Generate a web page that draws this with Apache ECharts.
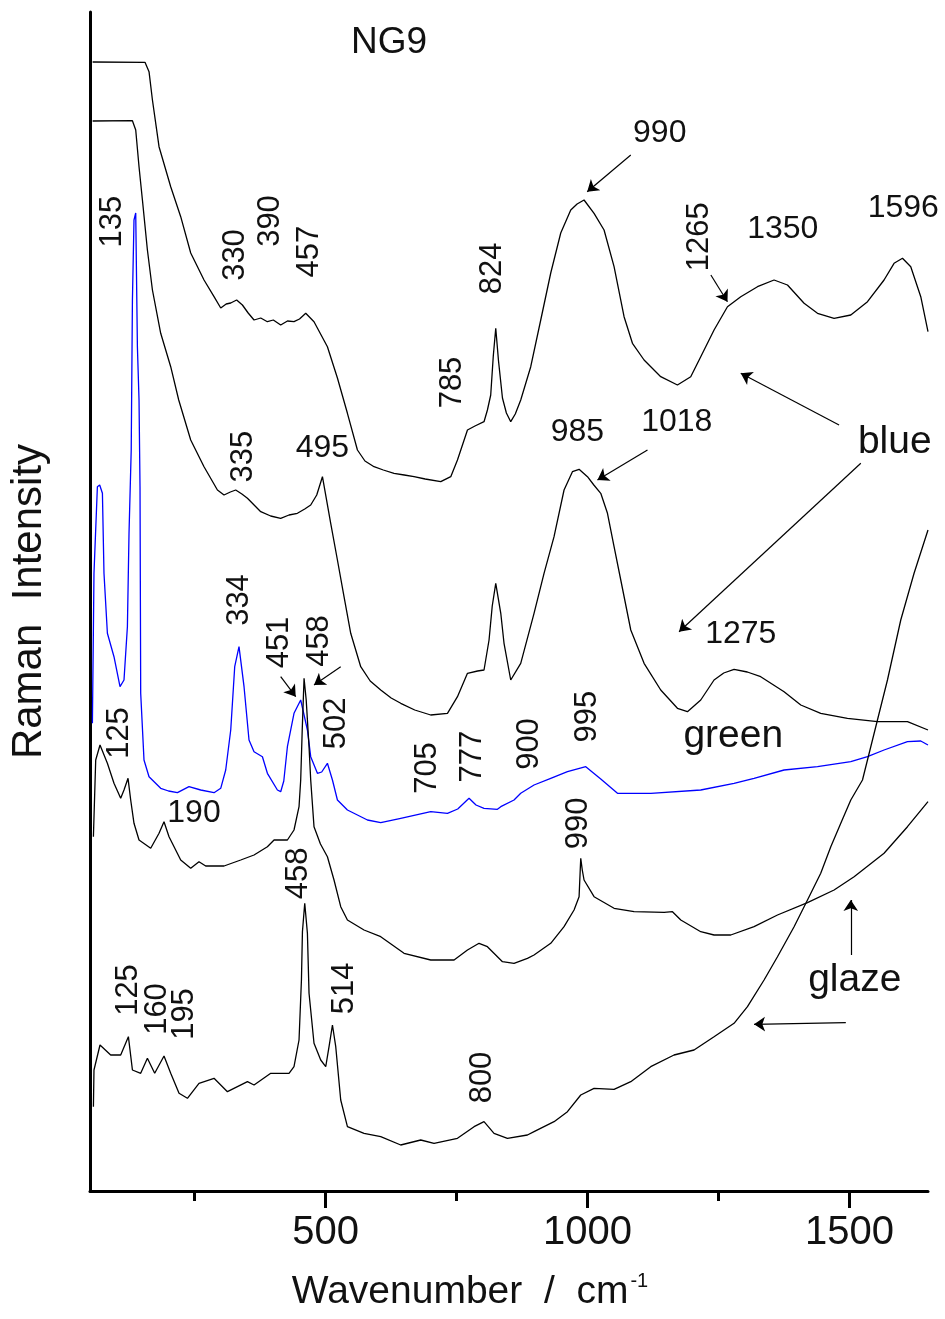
<!DOCTYPE html>
<html>
<head>
<meta charset="utf-8">
<script src="https://cdn.jsdelivr.net/npm/echarts@6/dist/echarts.min.js"></script>
<style>
html,body{margin:0;padding:0;background:#fff;}
#chart{width:945px;height:1319px;}
</style>
</head>
<body>
<div id="chart"></div>
<script>
// ---- axis range and tick values (wavenumber, cm-1) ----
const xMin = 50, xMax = 1650;
const yMin = 0, yMax = 1179;            // intensity, arbitrary units
const majorTicks = [500, 1000, 1500];
const minorTicks = [250, 750, 1250];

// ---- spectra: [wavenumber, intensity (a.u.)] ----
const blueSample1 = [
 [55,1129],[155,1128.7],[162.7,1119.3],[169.2,1091],[181.8,1044.3],[204.1,1004.3],[223.2,974.3],
 [242.3,938],[267.7,911],[286.8,894.3],[299.6,883],[310,887],[318.7,888],[330,891],[341,886],[352,878],[363.2,871],
 [376,873],[388.7,869.3],[400,871],[414.1,866],[427,870],[439.5,869.3],[450,872],[461.9,877.7],[477.7,869.3],
 [503.3,844.3],[522.4,813],[541.5,777.7],[560.6,741],[575,730],[592.3,724.3],[610,721],[630.5,717.7],
 [650,716],[668.7,714.3],[690,712],[719.7,709.3],[738.8,714.3],[751.6,731],[770.7,761],[785,765],[802.3,769.3],
 [808.8,781],[815.1,796],[820,835],[824.7,862.7],[830,830],[837.5,793],[845,778],[853.3,769.3],[862,777],[872.4,791],
 [891.5,824.3],[910.6,871],[929.7,918],[948.8,958],[967.9,981],[980,987],[993.3,991],[1012.4,977.7],
 [1031.5,961],[1050.6,924.3],[1069.7,874.3],[1085.7,847.7],[1107.9,831],[1139.7,814.3],[1171.6,806],
 [1197,814.3],[1216.1,834.3],[1241.5,861],[1267.1,884.3],[1292.5,894.3],[1324.4,904.3],[1356.1,911],
 [1381.7,906],[1413.4,887.7],[1439,877.7],[1470.7,872.7],[1502.6,876],[1534.5,889.3],[1566.1,911],
 [1585.2,927.7],[1601.3,932.7],[1617.1,924.3],[1636.2,894.3],[1650,859.3]
];
const blueSample2 = [
 [55,1070],[131,1070.3],[137.3,1061],[143.6,1024.3],[150.1,991],[159.6,941],[169.2,901],[185,857.7],
 [204.1,824.3],[219.4,791],[242.3,751],[267.7,724.3],[293.3,701],[305.9,696],[318,699],[328.2,701],[340,697],
 [350.6,692.7],[376,679.3],[395,675],[414.1,672.7],[430,676],[446,677.7],[460,682],[471.4,686],[482.9,696],
 [493.8,714.3],[509.6,667.7],[522.4,631],[535,594.3],[547.8,557.7],[566.9,524.3],[585,510],[605.1,501],
 [625,493],[643.3,487.7],[670,481],[700.6,476],[732.5,477.7],[751.6,494.3],[770.7,517.7],[790,520],[802.3,521],
 [811.9,551],[818,585],[824.7,607.7],[834.3,577.7],[840.5,547.7],[853.3,511],[872.4,527.7],[897.8,577.7],
 [916.9,617.7],[936,654.3],[955.1,701],[971.1,719.3],[983.8,721.7],[999.8,714.3],[1012,706],[1025.2,697.7],
 [1038,677.7],[1050.6,644.3],[1063.4,611],[1082.5,561],[1107.9,527.7],[1139.7,501],[1171.6,482.7],
 [1190.7,479.3],[1216.1,491],[1241.5,511],[1260,518],[1279.7,521.7],[1305,519],[1330.6,514.3],[1375.2,499.3],
 [1407.1,486],[1445.2,477.7],[1496.2,472.7],[1553.5,469.3],[1610.8,469.3],[1650,461]
];
const greenSampleBlue = [
 [54.6,467.7],[57.6,617.7],[64.1,704.3],[68.5,706],[73.7,697.7],[76.7,617.7],[83.2,557.7],[95.8,534.3],
 [107.3,504.3],[114.9,511],[121.4,564.3],[124.5,658],[128.7,741],[131,891],[134,971],[137.3,978],
 [140.5,844.3],[143.6,791],[145.5,704.3],[146.8,497.7],[153.1,431],[162.7,414.3],[185,402.7],[200,400],
 [216.9,398.3],[239,404.3],[261.4,401],[286.8,398.3],[299.6,402.7],[309.1,421],[318.7,461],[326.3,524.3],
 [334.5,544.3],[344.1,504.3],[353.6,451],[363.2,439.3],[379.2,434.3],[388.7,417.7],[407.8,401],[414.1,399.3],
 [420,410],[426.9,444.3],[439.5,477.7],[452.3,491],[465.1,461],[471.4,434.3],[484.2,417.7],[492.4,419],
 [503.3,427.7],[512.9,411],[522.4,391],[541.5,381],[579.7,371],[605.1,368.3],[643.3,372.7],[700.6,379.3],
 [732.5,377.7],[752.1,382],[773.7,392.7],[787,386],[802.3,382.7],[827.9,381.7],[834.3,384.3],[859.6,391],
 [872.4,397.7],[897.8,406],[929.7,412.7],[961.6,419.3],[996.6,424.3],[1025.2,412],[1057.1,397.7],
 [1120.9,397.7],[1216.1,401],[1279.7,407.7],[1317.9,412.7],[1375.2,421],[1439,424.3],[1502.6,429.3],
 [1534.5,434.3],[1566.1,441],[1610.8,449.3],[1636.2,450],[1650,446]
];
const greenSampleBlack = [
 [56.5,354.3],[60.9,431],[69.1,446],[83.2,427.7],[95.8,407.7],[108.6,392.7],[114.9,401],[122.6,412.7],
 [127.7,391],[134,367.7],[143.6,351],[165.9,342.7],[181.8,357.7],[191.3,369.3],[200.9,354.3],[223.2,331],
 [242.3,322.7],[258.1,329.3],[270.9,325],[305.9,325],[337.8,331],[363.2,336],[388.7,344.3],[401.4,351],
 [426.9,351],[439.5,361],[449.1,384.3],[452.3,411],[455.2,461],[458.7,512.7],[462.8,491],[468.2,444.3],
 [471.4,411],[477.7,364.3],[490,347],[503.3,334.3],[515.9,311],[528.7,284.3],[541.5,271],[573.2,261],
 [605.1,254.3],[649.6,237.7],[700.6,231],[745.1,231],[770.7,241],[792.8,247.7],[808.8,244.3],[837.5,229.3],
 [859.6,227.7],[885.2,232.7],[897.8,236],[929.7,247.7],[955.1,264.3],[974.2,281],[983.8,294.3],[986,321],
 [987,332.7],[989.9,321],[993.3,311],[1012.4,294.3],[1050.6,282.7],[1088.8,279.3],[1146.1,278.7],
 [1162.1,279.3],[1178,271],[1216.1,259.3],[1241.5,256],[1273.4,256],[1317.9,264.3],[1362.6,276],
 [1419.9,288.3],[1470.7,301],[1508.9,314.3],[1566.1,337.7],[1610.8,364.3],[1650,389.3]
];
const glaze = [
 [56.5,84.3],[57.6,121],[69.1,146],[89.5,136],[108.6,136],[123.3,154.3],[131,121],[146.8,117.7],
 [159.6,132.7],[173.5,117.7],[191.3,135],[204.1,117.7],[220,97.7],[236,92.7],[258.1,107.7],[286.8,112.7],
 [312.4,99.3],[350.6,109.3],[363.2,106],[395.1,117.7],[430,117.7],[439.5,124.3],[449.1,151],[453.7,211],
 [455.6,259.3],[460,287.7],[465.1,257.7],[468.2,197.7],[477.7,147.7],[490.5,131],[500.1,124.3],[506.4,144.3],
 [512.9,166],[519.2,144.3],[528.7,91],[541.5,64.3],[573.2,57.7],[605.1,54.3],[643.3,46],[681.5,51],
 [706.9,47.7],[751.6,52.7],[783.3,64.3],[802.3,69.3],[821.4,57.7],[847,52.7],[885.2,56],[897.8,59.3],
 [936,69.3],[961.6,79.3],[987,96],[1012.4,102.7],[1050.6,101.7],[1082.5,109.3],[1120.6,124.3],[1165.1,136],
 [1203.3,141],[1241.5,154.3],[1279.7,167.7],[1305.3,184.3],[1337,211],[1362.6,234.3],[1394.3,264.3],
 [1419.9,291],[1445.2,317.7],[1464.4,344.3],[1483.5,367.7],[1502.6,391],[1524.9,411],[1553.5,471],
 [1572.6,511],[1598,571],[1623.4,617.7],[1650,661]
];

// ---- annotations: [text, wavenumber, intensity] ----
const peakLabelsH = [
 ['990',1137.8,1058],['1350',1372.7,962],['1596',1602.8,983],['985',980.7,758.5],['1018',1170.3,768.5],
 ['1275',1292.5,557],['495',493.8,742.7],['190',248.6,378]
];
const peakLabelsV = [
 ['135',92.8,969.3],['330',328.2,936],['390',395.1,970],['457',468.2,939.3],['824',817.6,922.7],
 ['1265',1212.9,954.3],['785',742,808.5],['335',342.5,734.3],['334',335.9,591],['451',412.2,548.5],
 ['458',487.3,550],['502',520.7,467.7],['125',106.7,458],['705',694.8,423],['777',780.2,434.3],
 ['900',889.6,447],['995',999.8,474.3],['458',447.6,317.7],['990',982.2,367.7],['125',122.9,201],
 ['160',178.7,182],['195',230.8,177],['514',535,202.7],['800',799.3,113.5]
];
const sampleLabels = [['blue',1586.6,749],['green',1278.2,455],['glaze',1510.2,211]];
// arrows: [from, to]
const arrows = [
 [[1082.5,1036],[999.3,999.3]],[[1235.4,916],[1267.1,889.3]],[[1480.2,766],[1292.5,817.7]],
 [[1521.7,727.7],[1174.7,559.3]],[[1114.4,741],[1018.9,711]],[[414.1,514.3],[442.8,494.3]],
 [[528.7,524.3],[477.7,506]],[[1502.6,236],[1502.6,291]],[[1493.1,168.3],[1317.9,166.7]]
];

const FONT = 'Liberation Sans, Arial, sans-serif';
const TXT = '#111';
const chart = echarts.init(document.getElementById('chart'), null, {renderer:'canvas'});

function lineSeries(name, data, color){
  return {name, type:'line', data, showSymbol:false, symbol:'none', smooth:false,
    lineStyle:{color, width:1.3}, xAxisIndex:0, yAxisIndex:0, z:3, silent:true};
}
function labelSeries(arr, size, rotate){
  return {type:'scatter', symbolSize:0, silent:true, z:5,
    itemStyle:{opacity:1},
    data: arr.map(a => ({name:a[0], value:[a[1], a[2]]})),
    label:{show:true, position:'inside', formatter:p=>p.name, rotate:rotate, opacity:1,
      fontFamily:FONT, fontSize:size, color:TXT, align:'center', verticalAlign:'middle'}};
}

chart.setOption({
  animation:false,
  backgroundColor:'#fff',
  title:{text:'NG9', left:351, top:24, padding:0,
    textStyle:{fontFamily:FONT, fontSize:37, fontWeight:'normal', color:TXT}},
  grid:{left:89, right:17, top:12, bottom:128, containLabel:false},
  xAxis:[{
    type:'value', min:xMin, max:xMax, position:'bottom',
    name:'Wavenumber  /  cm{sup|-1}', nameLocation:'middle', nameGap:80,
    nameTextStyle:{fontFamily:FONT, fontSize:39, color:TXT, padding:[0,78,0,0],
      rich:{sup:{fontFamily:FONT, fontSize:20, color:TXT, padding:[0,0,22,2]}}},
    axisLine:{show:true, onZero:false, lineStyle:{color:'#000', width:3}},
    axisTick:{show:true, customValues:majorTicks, length:17, lineStyle:{color:'#000', width:3}},
    axisLabel:{show:true, customValues:majorTicks, margin:22, fontFamily:FONT, fontSize:40, color:TXT,
      formatter:v => String(v)},
    splitLine:{show:false}
  },{
    type:'value', min:xMin, max:xMax, position:'bottom', offset:0,
    axisLine:{show:false},
    axisTick:{show:true, customValues:minorTicks, length:10, lineStyle:{color:'#000', width:3}},
    axisLabel:{show:false}, splitLine:{show:false}
  }],
  yAxis:{
    type:'value', min:yMin, max:yMax,
    name:'Raman  Intensity', nameLocation:'middle', nameGap:40, nameRotate:90,
    nameTextStyle:{fontFamily:FONT, fontSize:42, color:TXT},
    axisLine:{show:true, onZero:false, lineStyle:{color:'#000', width:3}},
    axisTick:{show:false}, axisLabel:{show:false}, splitLine:{show:false}
  },
  series:[
    lineSeries('blue 1', blueSample1, '#000'),
    lineSeries('blue 2', blueSample2, '#000'),
    lineSeries('green (blue trace)', greenSampleBlue, '#0000ff'),
    lineSeries('green', greenSampleBlack, '#000'),
    lineSeries('glaze', glaze, '#000'),
    {type:'lines', coordinateSystem:'cartesian2d', silent:true, z:4,
      symbol:['none','arrow'], symbolSize:[0,11],
      lineStyle:{color:'#000', width:1.2, opacity:1},
      data: arrows.map(a => ({coords:a}))},
    labelSeries(peakLabelsH, 32, 0),
    labelSeries(peakLabelsV, 31, 90),
    labelSeries(sampleLabels, 39, 0)
  ]
});
</script>
</body>
</html>
